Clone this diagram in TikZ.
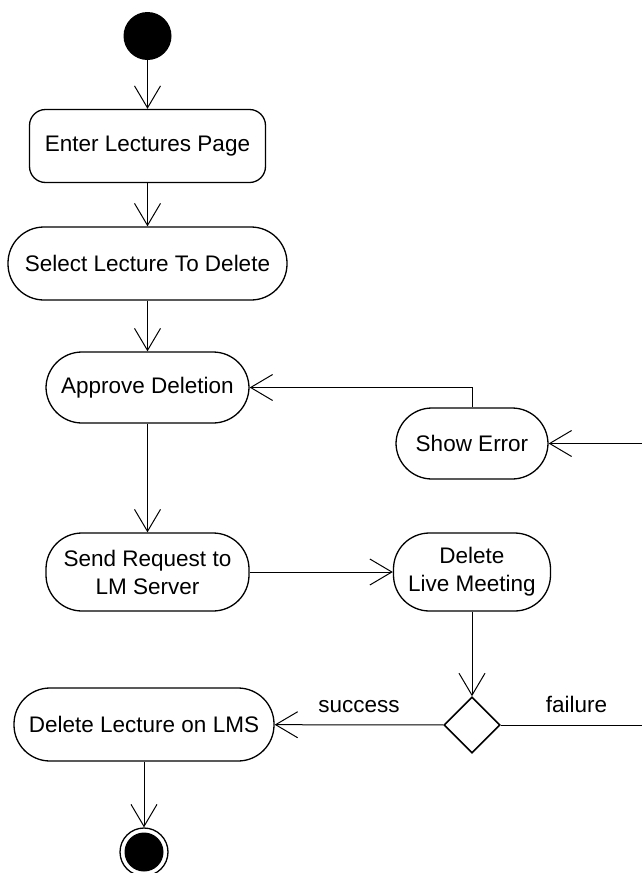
\documentclass[tikz,border=0pt]{standalone}
\usepackage{fontspec}
\setmainfont{Liberation Sans}
\usetikzlibrary{positioning}
\usetikzlibrary{arrows.meta}
\usetikzlibrary{shapes.geometric}
\tikzset{
  activity/.style={rectangle,draw,line width=1.3pt,rounded corners=36pt,
                   minimum height=73pt,inner sep=0pt,align=center,
                   font=\fontsize{22.5}{28}\selectfont},
  initial/.style={circle,fill=black,minimum size=48pt,inner sep=0pt},
  final/.style={circle,draw,line width=1.3pt,minimum size=48pt,inner sep=0pt,
                path picture={\fill (path picture bounding box.center) circle (19.5pt);}},
  decision/.style={diamond,draw,line width=1.6pt,minimum size=56pt,inner sep=0pt},
  flow/.style={-{Straight Barb[length=22pt,width=26pt]},line width=1pt},
  guard/.style={font=\fontsize{22.5}{28}\selectfont,inner sep=0pt,above=12pt},
}

\begin{document}
\begin{tikzpicture}[x=1pt,y=-1pt]
  \useasboundingbox (0,0) rectangle (642,873);

  % left column
  \node[initial] (start) at (147.5,36) {};
  \node[activity,rounded corners=16pt,minimum width=236pt]
      (enter) at (147.5,146) {Enter Lectures Page};
  \node[activity,minimum width=279pt]
      (select) at (147.5,263.5) {Select Lecture To Delete};
  \node[activity,minimum width=203pt,minimum height=71pt]
      (approve) at (147.5,387.5) {Approve Deletion};
  \node[activity,minimum width=203pt,minimum height=78pt]
      (send) at (147.5,572) {Send Request to\\LM Server};
  \node[activity,minimum width=260pt]
      (deletelms) at (144,724.5) {Delete Lecture on LMS};
  \node[final] (end) at (144,852) {};

  % right column
  \node[activity,minimum width=152pt,minimum height=71pt]
      (error) at (472,443.5) {Show Error};
  \node[activity,minimum width=157pt,minimum height=78pt]
      (deletelm) at (472,572) {Delete\\Live Meeting};
  \node[decision] (decide) at (472,725) {};
  \coordinate (failcorner) at (652,725);

  \draw[flow] (start) -- (enter);
  \draw[flow] (enter) -- (select);
  \draw[flow] (select) -- (approve);
  \draw[flow] (approve) -- (send);
  \draw[flow] (send) -- (deletelm);
  \draw[flow] (deletelm) -- (decide);
  \draw[flow] (decide) -- node[guard] {success} (deletelms);
  \draw[flow] (deletelms) -- (end);
  \draw[flow] (decide.east) -- node[guard] {failure} (failcorner) |- (error);
  \draw[flow] (error.north) |- (approve.east);
\end{tikzpicture}
\end{document}
